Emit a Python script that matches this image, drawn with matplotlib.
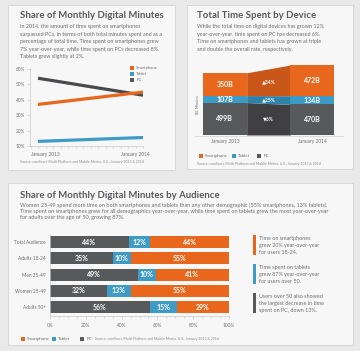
import matplotlib
matplotlib.use("Agg")
import matplotlib.pyplot as plt
from matplotlib.patches import Rectangle
from matplotlib.lines import Line2D
import numpy as np

plt.rcParams['font.family'] = ['Lato', 'DejaVu Sans']
BODY = ['Lato', 'DejaVu Sans']

# ---------------- data ----------------
line_x = [0, 14]
share_smartphone = [37, 45]
share_tablet = [13, 15.5]
share_pc = [54, 43]
line_tick_pos = [1, 13]
line_tick_labels = ["January 2013", "January 2014"]
share_yticks = [10, 20, 30, 40, 50, 60]

device_periods = ["January 2013", "January 2014"]
device_pc = [499, 470]
device_tablet = [107, 134]
device_smartphone = [350, 472]
device_growth = ["\u25bc6%", "\u25b225%", "\u25b234%"]  # PC, Tablet, Smartphone

audiences = ["Total Audience", "Adults 18-24", "Men 25-49", "Women 25-49", "Adults 50+"]
aud_pc = [44, 35, 49, 32, 56]
aud_tablet = [12, 10, 10, 13, 15]
aud_smartphone = [44, 55, 41, 55, 29]
aud_xticks = [0, 20, 40, 60, 80, 100]

# ---------------- style ----------------
ORANGE = "#e8671c"
BLUE = "#3e9bc6"
GRAY = "#58595b"
ORANGE_D = "#c9571a"
BLUE_D = "#2e82a8"
GRAY_D = "#404042"
TXT = "#6d6e70"
TITLE = "#58595b"
SRC = "#8a8b8d"

W, H = 360, 351
fig = plt.figure(figsize=(W / 100, H / 100), dpi=100, facecolor="#e9e9e9")


def add_ax(x0, y0, x1, y1):
    ax = fig.add_axes([x0 / W, 1 - y1 / H, (x1 - x0) / W, (y1 - y0) / H])
    ax.patch.set_alpha(0)
    return ax


def txt(x, y, s, **kw):
    kw.setdefault("color", TXT)
    kw.setdefault("va", "center")
    return fig.text(x / W, 1 - y / H, s, **kw)


def panel(x0, y0, x1, y1):
    fig.add_artist(Rectangle((x0 / W, 1 - y1 / H), (x1 - x0) / W, (y1 - y0) / H,
                             transform=fig.transFigure, fc="#f7f7f7", ec="#d3d3d3", lw=0.6, zorder=0))


def legend_row(items, y, size=3.2):
    for (x, color, label) in items:
        fig.add_artist(Rectangle((x / W, 1 - (y + 2.2) / H), 4.4 / W, 4.4 / H,
                                 transform=fig.transFigure, fc=color, ec="none"))
        txt(x + 6.3, y, label, fontsize=size, color=TXT, family=BODY)


panel(8, 5, 175, 170)
panel(187, 5, 353, 169)
panel(8, 183, 353, 345)

TSIZE = 6.9
BSIZE = 3.85

# ---------------- Panel 1 ----------------
txt(20, 16, "Share of Monthly Digital Minutes", fontsize=TSIZE, fontweight="bold", color=TITLE)
p1_lines = ["In 2014, the amount of time spent on smartphones",
            "surpassed PCs, in terms of both total minutes spent and as a",
            "percentage of total time. Time spent on smartphones grew",
            "7% year-over-year, while time spent on PCs decreased 8%.",
            "Tablets grew slightly at 2%."]
for i, s in enumerate(p1_lines):
    txt(20, 26.5 + i * 7.6, s, fontsize=BSIZE, family=BODY)

ax1 = add_ax(30, 69, 143, 146)
ax1.plot(line_x, share_pc, color="#4a4a4c", lw=2.3, solid_capstyle="butt")
ax1.plot(line_x, share_smartphone, color=ORANGE, lw=2.3, solid_capstyle="butt")
ax1.plot(line_x, share_tablet, color=BLUE, lw=2.3, solid_capstyle="butt")
ax1.set_xlim(-1.07, 14)
ax1.set_ylim(10, 60)
ax1.set_yticks(share_yticks)
ax1.set_yticklabels([f"{v}%" for v in share_yticks], family=BODY)
ax1.set_xticks(line_tick_pos)
ax1.set_xticklabels(line_tick_labels, family=BODY)
ax1.set_xticks(np.arange(-1, 15), minor=True)
for sp in ["top", "right"]:
    ax1.spines[sp].set_visible(False)
for sp in ["left", "bottom"]:
    ax1.spines[sp].set_color("#c8c8c8")
    ax1.spines[sp].set_linewidth(0.5)
ax1.tick_params(axis="both", labelsize=3.4, colors="#c8c8c8", labelcolor=TXT, width=0.5, length=2, pad=1.5)
ax1.tick_params(axis="x", which="minor", length=1.5, width=0.5, colors="#c8c8c8")
ax1.tick_params(axis="x", which="major", length=1.5, pad=3)
legend_row([(130, ORANGE, "Smartphone")], 68, 3.0)
legend_row([(130, BLUE, "Tablet")], 74, 3.0)
legend_row([(130, GRAY, "PC")], 80, 3.0)
txt(20, 162, "Source: comScore Multi-Platform and Mobile Metrix, U.S., January 2013 & 2014",
    fontsize=2.5, color=SRC, family=BODY)

# ---------------- Panel 2 ----------------
txt(197, 16, "Total Time Spent by Device", fontsize=TSIZE, fontweight="bold", color=TITLE)
p2_lines = ["While the total time on digital devices has grown 12%",
            "year-over-year, time spent on PC has decreased 6%.",
            "Time on smartphones and tablets has grown at triple",
            "and double the overall rate, respectively."]
for i, s in enumerate(p2_lines):
    txt(197, 26.5 + i * 7.6, s, fontsize=BSIZE, family=BODY)

ax2 = add_ax(203, 65, 334, 135)
layers = [device_pc, device_tablet, device_smartphone]
cols = [GRAY, BLUE, ORANGE]
dcols = [GRAY_D, BLUE_D, ORANGE_D]
bL = 0
bR = 0
for vals, c, dc, g in zip(layers, cols, dcols, device_growth):
    tL, tR = bL + vals[0], bR + vals[1]
    ax2.fill_between([0, 1], [bL, bL], [tL, tL], color=c, lw=0)
    ax2.fill_between([1, 2], [bL, bR], [tL, tR], color=dc, lw=0)
    ax2.fill_between([2, 3], [bR, bR], [tR, tR], color=c, lw=0)
    ax2.text(0.5, (bL + tL) / 2, f"{vals[0]}B", color="white", fontsize=5, fontweight="bold",
             ha="center", va="center")
    ax2.text(2.5, (bR + tR) / 2, f"{vals[1]}B", color="white", fontsize=5, fontweight="bold",
             ha="center", va="center")
    ax2.text(1.5, (bL + tL + bR + tR) / 4, g, color="white", fontsize=3.6, fontweight="bold",
             ha="center", va="center")
    bL, bR = tL, tR
ax2.set_xlim(0, 3)
ax2.set_ylim(0, bR)
ax2.axis("off")
fig.add_artist(Line2D([195 / W, 343 / W], [1 - 136.5 / H, 1 - 136.5 / H], transform=fig.transFigure,
                      color="#d0d0d0", lw=0.5))
for xc, lab in zip([0.5, 2.5], device_periods):
    ax2.text(xc / 3, -0.1, lab, transform=ax2.transAxes, fontsize=3.4, color=TXT,
             ha="center", va="center", family=BODY)
txt(197.5, 104, "Bil. Minutes", fontsize=2.6, rotation=90, ha="center", family=BODY)
legend_row([(199, ORANGE, "Smartphone"), (232, BLUE, "Tablet"), (257, GRAY, "PC")], 156, 3.2)
txt(197, 164, "Source: comScore Multi-Platform and Mobile Metrix, U.S., January 2013 & 2014",
    fontsize=2.5, color=SRC, family=BODY)

# ---------------- Panel 3 ----------------
txt(20, 195, "Share of Monthly Digital Minutes by Audience", fontsize=TSIZE, fontweight="bold", color=TITLE)
p3_lines = ["Women 25-49 spend more time on both smartphones and tablets than any other demographic (55% smartphones, 13% tablets).",
            "Time spent on smartphones grew for all demographics year-over-year, while time spent on tablets grew the most year-over-year",
            "for adults over the age of 50, growing 87%."]
for i, s in enumerate(p3_lines):
    txt(20, 205 + i * 6.4, s, fontsize=4.0, family=BODY)

ax3 = add_ax(50, 234, 229, 316)
ypos = np.arange(len(audiences))
left = np.zeros(len(audiences))
for vals, c in zip([aud_pc, aud_tablet, aud_smartphone], [GRAY, BLUE, ORANGE]):
    vals = np.array(vals, dtype=float)
    ax3.barh(ypos, vals, left=left, height=0.74, color=c, lw=0)
    for y, l, v in zip(ypos, left, vals):
        ax3.text(l + v / 2, y, f"{int(v)}%", color="white", fontsize=5, fontweight="bold",
                 ha="center", va="center")
    left += vals
ax3.set_xlim(0, 100)
ax3.set_ylim(len(audiences) - 0.45, -0.5)
ax3.set_yticks(ypos)
ax3.set_yticklabels(audiences, family=BODY)
ax3.set_xticks(aud_xticks)
ax3.set_xticklabels([f"{v}%" for v in aud_xticks], family=BODY)
ax3.set_xticks(np.arange(0, 101, 5), minor=True)
for sp in ["top", "right"]:
    ax3.spines[sp].set_visible(False)
for sp in ["left", "bottom"]:
    ax3.spines[sp].set_color("#c8c8c8")
    ax3.spines[sp].set_linewidth(0.5)
ax3.tick_params(axis="y", length=0, labelsize=3.4, labelcolor=TXT, pad=3)
ax3.tick_params(axis="x", labelsize=3.4, labelcolor=TXT, colors="#c8c8c8", length=2, width=0.5, pad=3)
ax3.tick_params(axis="x", which="minor", length=1.2, width=0.5, colors="#c8c8c8")
legend_row([(21, ORANGE, "Smartphone"), (52, BLUE, "Tablet"), (80, GRAY, "PC")], 339, 3.2)
txt(95, 339, "Source: comScore Multi-Platform and Mobile Metrix, U.S., January 2013 & 2014",
    fontsize=2.5, color=SRC, family=BODY)

notes = [(ORANGE, 235, ["Time on smartphones", "grew 20% year-over-year", "for users 18-24."]),
         (BLUE, 264, ["Time spent on tablets", "grew 87% year-over-year", "for users over 50."]),
         (GRAY, 293, ["Users over 50 also showed", "the largest decrease in time", "spent on PC, down 13%."])]
for c, y0, lines in notes:
    fig.add_artist(Rectangle((253 / W, 1 - (y0 + 20) / H), 2.6 / W, 20 / H, transform=fig.transFigure,
                             fc=c, ec="none"))
    for i, s in enumerate(lines):
        txt(259, y0 + 3.5 + i * 7, s, fontsize=3.9, family=BODY)

fig.savefig("out.png", dpi=100, facecolor=fig.get_facecolor())
